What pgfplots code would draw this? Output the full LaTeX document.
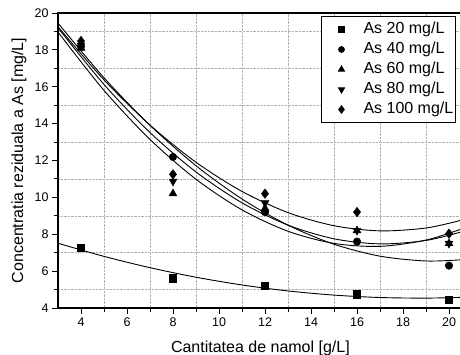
\documentclass[border=0pt]{standalone}
\usepackage{pgfplots}
\pgfplotsset{compat=1.18}
\usepackage{fontspec}
\setmainfont{Liberation Sans}
\begin{document}
\begin{tikzpicture}
\begin{axis}[
  name=ax,
  scale only axis,
  width=404.8pt, height=295pt,
  xmin=3, xmax=20.6, ymin=4, ymax=20,
  xtick={4,6,...,20}, ytick={4,6,...,20},
  minor xtick={5,7,...,19}, minor ytick={5,7,...,19},
  grid=minor,
  minor grid style={densely dotted, black!30, line width=0.6pt},
  tick align=outside,
  xtick pos=bottom, ytick pos=left,
  major tick length=6pt, minor tick length=4pt,
  every tick/.style={black, line width=0.9pt},
  axis line style={line width=1.1pt},
  /pgf/number format/assume math mode=true,
  ticklabel style={font=\fontsize{12.5}{14}\selectfont},
  xlabel={Cantitatea de namol [g/L]},
  ylabel={Concentratia reziduala a As [mg/L]},
  label style={font=\fontsize{16}{19}\selectfont},
  xlabel style={at={(axis description cs:0.5,0)}, anchor=base, yshift=-45pt},
  ylabel style={at={(axis description cs:-0.0963,0.5)}, anchor=center},
  legend style={at={(axis description cs:0.6497,0.9898)}, anchor=north west,
    font=\fontsize{16}{19}\selectfont, draw=black, line width=1pt,
    inner xsep=2pt, inner ysep=5pt, row sep=4pt,
    nodes={inner sep=0pt, text height=12pt, text depth=4pt}},
  legend cell align=left,
  legend image code/.code={\path[draw=none,fill=none] (0pt,-4pt) rectangle (40pt,4pt);
    \draw[mark repeat=2,mark phase=2, every mark/.append style={scale=0.75}] plot coordinates {(0pt,0pt)(18pt,0pt)(36pt,0pt)};},
]
\addplot[only marks, mark=square*, mark size=3.6pt, black] coordinates {(4,7.27)(8,5.62)(12,5.2)(16,4.75)(20,4.47)};
\addplot[only marks, mark=*, mark size=3.8pt, black] coordinates {(4,18.2)(8,12.19)(12,9.2)(16,7.6)(20,6.3)};
\addplot[only marks, mark=triangle*, mark size=4.6pt, black] coordinates {(4,18.1)(8,10.2)(12,9.4)(16,8.2)(20,7.5)};
\addplot[only marks, mark=triangle*, mark options={rotate=180}, mark size=4.6pt, black] coordinates {(4,18.25)(8,10.87)(12,9.7)(16,8.2)(20,7.5)};
\addplot[only marks, mark=diamond*, mark size=4.8pt, black] coordinates {(4,18.48)(8,11.25)(12,10.2)(16,9.2)(20,8.03)};
\legend{As 20 mg/L, As 40 mg/L, As 60 mg/L, As 80 mg/L, As 100 mg/L}
\addplot[black, line width=0.9pt, smooth] coordinates {(3,7.511)(5,6.800)(7,6.186)(9,5.669)(11,5.249)(13,4.925)(15,4.699)(17,4.569)(19,4.536)(20.6,4.58)};
\addplot[black, line width=0.9pt, smooth] coordinates {(3,19.450)(5,16.486)(7,13.909)(9,11.717)(11,9.912)(13,8.492)(15,7.459)(17,6.811)(19,6.550)(20.6,6.62)};
\addplot[black, line width=0.9pt, smooth] coordinates {(3,18.963)(5,15.803)(7,13.143)(9,10.983)(11,9.323)(13,8.163)(15,7.503)(17,7.343)(19,7.683)(20.6,8.31)};
\addplot[black, line width=0.9pt, smooth] coordinates {(3,19.193)(5,16.123)(7,13.518)(9,11.379)(11,9.704)(13,8.496)(15,7.753)(17,7.476)(19,7.663)(20.6,8.15)};
\addplot[black, line width=0.9pt, smooth] coordinates {(3,19.257)(5,16.371)(7,13.921)(9,11.904)(11,10.322)(13,9.174)(15,8.462)(17,8.183)(19,8.339)(20.6,8.78)};
\end{axis}
\pgfresetboundingbox
\path[use as bounding box] ([xshift=-58pt,yshift=-47pt]ax.south west) rectangle ([xshift=-2.8pt,yshift=13pt]ax.north east);
\end{tikzpicture}
\end{document}
